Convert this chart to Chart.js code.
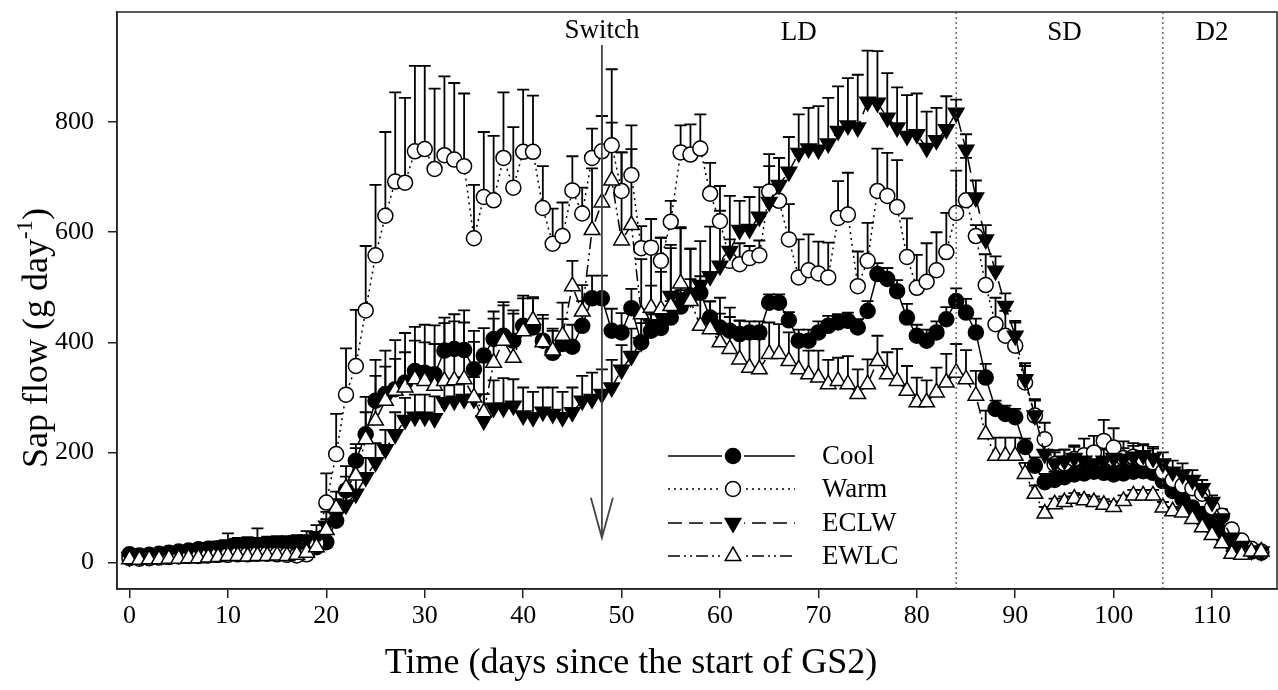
<!DOCTYPE html>
<html>
<head>
<meta charset="utf-8">
<script src="https://cdn.jsdelivr.net/npm/chart.js@4.4.1/dist/chart.umd.min.js"></script>
<style>
  html, body { margin: 0; padding: 0; background: #fff; }
  #sapChart { display: block; }
</style>
</head>
<body>
<canvas id="sapChart" width="1278" height="690"></canvas>
<script>
const FONT = '"Liberation Serif", "Times New Roman", serif';

// days since start of GS2
const days = [];
for (let d = 0; d <= 115; d++) days.push(d);

const xTicks = [0, 10, 20, 30, 40, 50, 60, 70, 80, 90, 100, 110];
const yTicks = [0, 200, 400, 600, 800];

// sap flow means (g day-1)
const cool = [
  15, 13, 14, 16, 18, 20, 22, 24, 25, 26,
  27, 28, 28, 29, 28, 28, 27, 25, 22, 28,
  37, 76, 131, 185, 233, 294, 306, 315, 327, 348,
  345, 342, 385, 388, 386, 351, 376, 406, 412, 403,
  430, 427, 403, 381, 397, 392, 430, 480, 480, 421,
  418, 462, 400, 421, 426, 445, 465, 485, 490, 445,
  427, 421, 415, 418, 418, 472, 472, 440, 403, 403,
  418, 430, 436, 439, 427, 457, 524, 515, 493, 445,
  412, 403, 418, 442, 475, 454, 418, 336, 279, 270,
  264, 210, 176, 146, 150, 155, 160, 162, 165, 163,
  160, 162, 165, 166, 163, 148, 130, 115, 100, 88,
  72, 55, 35, 25, 20, 18
];
const warm = [
  8, 7, 8, 9, 10, 11, 12, 12, 13, 14,
  14, 15, 15, 16, 16, 15, 14, 13, 15, 35,
  109, 197, 305, 357, 458, 558, 630, 692, 690, 747,
  751, 715, 740, 732, 720, 589, 664, 658, 735, 681,
  746, 746, 644, 579, 593, 676, 634, 735, 747, 758,
  675, 704, 571, 572, 548, 619, 745, 741, 752, 670,
  620, 548, 542, 553, 558, 674, 657, 587, 518, 531,
  525, 518, 626, 632, 502, 548, 675, 666, 646, 555,
  499, 510, 531, 564, 635, 658, 593, 504, 433, 412,
  394, 327, 267, 224, 179, 180, 188, 195, 200, 221,
  209, 190, 192, 188, 182, 165, 150, 140, 135, 125,
  100, 85, 60, 40, 25, 20
];
const eclw = [
  10, 12, 14, 16, 18, 20, 22, 25, 28, 30,
  33, 35, 36, 37, 37, 38, 38, 40, 42, 48,
  67, 85, 105, 125, 155, 182, 206, 233, 259, 265,
  265, 262, 291, 294, 297, 297, 258, 281, 281, 285,
  267, 264, 274, 270, 264, 273, 294, 297, 306, 318,
  350, 375, 400, 433, 448, 484, 481, 481, 504, 520,
  539, 566, 604, 606, 628, 655, 686, 710, 744, 752,
  750, 761, 784, 794, 790, 837, 835, 808, 790, 775,
  778, 753, 767, 787, 817, 750, 663, 587, 530, 466,
  412, 333, 267, 197, 180, 185, 190, 185, 180, 185,
  190, 188, 192, 195, 190, 180, 165, 160, 150, 135,
  110, 80, 45, 30, 22, 20
];
const ewlc = [
  6, 5, 6, 6, 7, 7, 8, 8, 9, 10,
  12, 12, 11, 12, 12, 13, 12, 14, 18, 28,
  59, 99, 135, 158, 224, 258, 294, 312, 318, 333,
  330, 321, 330, 331, 333, 300, 273, 363, 403, 372,
  420, 440, 400, 385, 412, 502, 456, 604, 654, 694,
  585, 613, 451, 463, 460, 466, 507, 475, 430, 424,
  400, 388, 369, 354, 351, 379, 379, 366, 351, 342,
  336, 324, 330, 324, 306, 324, 366, 342, 330, 312,
  291, 291, 309, 327, 345, 333, 303, 233, 194, 194,
  194, 161, 125, 89, 106, 110, 116, 113, 110, 105,
  101, 112, 122, 122, 122, 100, 93, 91, 79, 64,
  50, 35, 16, 14, 20, 20
];

// upper error bars (SE)
const coolErr = [
  5, 5, 5, 5, 6, 6, 6, 6, 6, 6,
  8, 8, 8, 8, 8, 8, 8, 8, 8, 10,
  15, 20, 25, 30, 40, 45, 50, 55, 55, 55,
  55, 55, 50, 50, 50, 50, 50, 50, 55, 55,
  55, 55, 40, 40, 45, 40, 45, 41, 41, 40,
  35, 35, 35, 30, 30, 30, 30, 30, 30, 30,
  25, 25, 25, 20, 20, 15, 15, 15, 20, 20,
  20, 18, 15, 15, 15, 18, 20, 20, 20, 25,
  20, 20, 20, 22, 23, 25, 25, 25, 15, 15,
  15, 15, 15, 15, 15, 15, 15, 15, 15, 15,
  15, 15, 15, 15, 15, 15, 15, 12, 10, 10,
  10, 8, 6, 5, 5, 5
];
const warmErr = [
  5, 5, 5, 6, 6, 6, 7, 7, 7, 8,
  8, 8, 8, 8, 8, 8, 8, 8, 10, 20,
  53, 73, 84, 102, 117, 128, 152, 162, 154, 155,
  151, 146, 143, 139, 132, 97, 118, 117, 119, 110,
  113, 102, 76, 64, 61, 62, 47, 53, 64, 41,
  70, 90, 40, 52, 42, 38, 49, 55, 62, 56,
  64, 39, 38, 22, 27, 68, 78, 64, 69, 65,
  58, 63, 67, 76, 63, 69, 77, 78, 85, 70,
  60, 70, 69, 71, 77, 77, 20, 56, 48, 45,
  42, 35, 30, 30, 25, 25, 25, 30, 30, 38,
  35, 30, 25, 25, 25, 20, 20, 18, 15, 15,
  15, 12, 10, 8, 5, 5
];
const eclwErr = [
  5, 5, 5, 6, 6, 6, 7, 7, 7, 8,
  20, 10, 10, 25, 10, 10, 10, 10, 15, 20,
  25, 30, 35, 35, 35, 35, 35, 40, 40, 40,
  40, 40, 40, 40, 40, 40, 48, 50, 54, 48,
  51, 46, 44, 48, 46, 45, 45, 48, 45, 50,
  45, 50, 60, 70, 80, 87, 128, 89, 80, 90,
  100, 100, 53, 58, 54, 65, 49, 63, 70, 74,
  79, 83, 81, 86, 96, 93, 94, 81, 73, 74,
  74, 66, 59, 60, 24, 28, 31, 26, 26, 23,
  27, 24, 27, 20, 20, 20, 20, 20, 20, 20,
  20, 20, 20, 20, 20, 20, 20, 20, 18, 15,
  12, 10, 8, 6, 5, 5
];
const ewlcErr = [
  3, 3, 3, 3, 4, 4, 4, 4, 4, 5,
  5, 5, 5, 5, 5, 5, 5, 5, 8, 10,
  20, 30, 40, 50, 77, 110, 91, 92, 99, 95,
  102, 110, 115, 120, 125, 121, 100, 80, 70, 80,
  60, 40, 50, 40, 60, 46, 48, 112, 157, 202,
  160, 138, 100, 120, 130, 111, 100, 95, 60, 50,
  81, 75, 70, 60, 55, 57, 54, 52, 45, 43,
  49, 44, 42, 51, 45, 45, 46, 40, 58, 45,
  45, 40, 45, 52, 52, 53, 45, 43, 33, 33,
  33, 20, 15, 12, 10, 10, 10, 10, 10, 10,
  10, 10, 10, 10, 10, 10, 8, 8, 8, 6,
  6, 5, 5, 5, 5, 5
];

// photoperiod phases and the treatment switch
const phaseLines = [84, 105];
const phaseLabels = [
  { text: 'LD', day: 68 },
  { text: 'SD', day: 95 },
  { text: 'D2', day: 110 }
];
const switchDay = 48;

const seriesStyle = [
  { label: 'Cool', values: cool, err: coolErr, fill: '#000', style: 'circle', rot: 0, radius: 7.5, dash: [] },
  { label: 'Warm', values: warm, err: warmErr, fill: '#fff', style: 'circle', rot: 0, radius: 7.5, dash: [2, 4] },
  { label: 'ECLW', values: eclw, err: eclwErr, fill: '#000', style: 'triangle', rot: 180, radius: 9, dash: [14, 7] },
  { label: 'EWLC', values: ewlc, err: ewlcErr, fill: '#fff', style: 'triangle', rot: 0, radius: 9, dash: [12, 4, 2, 4, 2, 4] }
];

const toPoints = vals => vals.map((v, i) => ({ x: days[i], y: v }));

// error bars go under the markers
const errorBars = {
  id: 'errorBars',
  beforeDatasetsDraw(chart) {
    const { ctx, scales: { x, y } } = chart;
    ctx.save();
    ctx.strokeStyle = '#000';
    ctx.lineWidth = 1.8;
    seriesStyle.forEach(s => {
      s.values.forEach((v, i) => {
        const px = x.getPixelForValue(days[i]);
        const y0 = y.getPixelForValue(v);
        const y1 = y.getPixelForValue(v + s.err[i]);
        ctx.beginPath();
        ctx.moveTo(px, y0);
        ctx.lineTo(px, y1);
        ctx.moveTo(px - 6, y1);
        ctx.lineTo(px + 6, y1);
        ctx.stroke();
      });
    });
    ctx.restore();
  }
};

const decorations = {
  id: 'decorations',
  afterDraw(chart) {
    const { ctx, chartArea: a, scales: { x, y } } = chart;
    ctx.save();

    // frame
    ctx.strokeStyle = '#222';
    ctx.lineWidth = 1.5;
    ctx.strokeRect(a.left, a.top, a.right - a.left, a.bottom - a.top);

    // phase boundaries
    ctx.strokeStyle = '#444';
    ctx.lineWidth = 1.2;
    ctx.setLineDash([2, 3]);
    phaseLines.forEach(d => {
      const px = x.getPixelForValue(d);
      ctx.beginPath();
      ctx.moveTo(px, a.top);
      ctx.lineTo(px, a.bottom);
      ctx.stroke();
    });
    ctx.setLineDash([]);

    ctx.fillStyle = '#000';
    ctx.font = '27px ' + FONT;
    ctx.textAlign = 'center';
    ctx.textBaseline = 'middle';
    phaseLabels.forEach(p => ctx.fillText(p.text, x.getPixelForValue(p.day), 33));

    // switch arrow
    const sx = x.getPixelForValue(switchDay);
    ctx.fillText('Switch', sx, 31);
    const top = 45;
    const tip = y.getPixelForValue(45);
    ctx.strokeStyle = '#444';
    ctx.lineWidth = 1.8;
    ctx.beginPath();
    ctx.moveTo(sx, top);
    ctx.lineTo(sx, tip);
    ctx.moveTo(sx - 11, tip - 40);
    ctx.lineTo(sx, tip);
    ctx.lineTo(sx + 11, tip - 40);
    ctx.stroke();

    // legend
    const lx0 = 668, lx1 = 795, mx = 733, tx = 822;
    const rows = [456, 489, 523, 556];
    seriesStyle.forEach((s, i) => {
      const ly = rows[i];
      ctx.strokeStyle = '#000';
      ctx.lineWidth = 1.5;
      ctx.setLineDash(s.dash);
      ctx.beginPath();
      ctx.moveTo(lx0, ly);
      ctx.lineTo(lx1, ly);
      ctx.stroke();
      ctx.setLineDash([]);
      ctx.fillStyle = '#fff';
      ctx.fillRect(mx - 11, ly - 11, 22, 22);
      ctx.fillStyle = s.fill;
      ctx.strokeStyle = '#000';
      ctx.lineWidth = 1.5;
      ctx.beginPath();
      if (s.style === 'circle') {
        ctx.arc(mx, ly, s.radius, 0, Math.PI * 2);
      } else {
        const r = s.radius, dir = s.rot ? -1 : 1;
        ctx.moveTo(mx, ly - dir * r);
        ctx.lineTo(mx + r * 0.866, ly + dir * r * 0.5);
        ctx.lineTo(mx - r * 0.866, ly + dir * r * 0.5);
        ctx.closePath();
      }
      ctx.fill();
      ctx.stroke();
      ctx.fillStyle = '#000';
      ctx.font = '27px ' + FONT;
      ctx.textAlign = 'left';
      ctx.fillText(s.label, tx, ly + 1);
    });

    // axis titles
    ctx.font = '36px ' + FONT;
    ctx.textAlign = 'center';
    ctx.fillText('Time (days since the start of GS2)', 631, 664);

    ctx.translate(38, 338);
    ctx.rotate(-Math.PI / 2);
    const main = 'Sap flow (g day';
    const sup = '-1';
    ctx.font = '36px ' + FONT;
    const w1 = ctx.measureText(main).width;
    const w3 = ctx.measureText(')').width;
    ctx.font = '23px ' + FONT;
    const w2 = ctx.measureText(sup).width;
    let sx0 = -(w1 + w2 + w3) / 2;
    ctx.textAlign = 'left';
    ctx.font = '36px ' + FONT;
    ctx.fillText(main, sx0, 0);
    ctx.font = '23px ' + FONT;
    ctx.fillText(sup, sx0 + w1, -12);
    ctx.font = '36px ' + FONT;
    ctx.fillText(')', sx0 + w1 + w2, 0);

    ctx.restore();
  }
};

const datasets = seriesStyle.map((s, i) => ({
  label: s.label,
  data: toPoints(s.values),
  borderColor: '#000',
  borderWidth: 1.5,
  borderDash: s.dash,
  pointStyle: s.style,
  rotation: s.rot,
  pointRadius: s.radius,
  pointBackgroundColor: s.fill,
  pointBorderColor: '#000',
  pointBorderWidth: 1.5,
  tension: 0,
  order: 4 - i
}));

new Chart(document.getElementById('sapChart'), {
  type: 'line',
  data: { datasets },
  options: {
    responsive: false,
    animation: false,
    devicePixelRatio: 1,
    layout: { autoPadding: false, padding: { top: 12, right: 1, left: 0, bottom: 0 } },
    plugins: { legend: { display: false }, tooltip: { enabled: false } },
    scales: {
      x: {
        type: 'linear',
        min: -1.27,
        max: 116.6,
        afterBuildTicks: scale => { scale.ticks = xTicks.map(v => ({ value: v })); },
        afterFit: scale => {
          scale.height = 101;
          scale.paddingLeft = 0;
          scale.paddingRight = 0;
        },
        grid: { drawOnChartArea: false, drawTicks: true, tickLength: 9, color: '#222', lineWidth: 1.5 },
        border: { display: true, color: '#222', width: 1.5 },
        ticks: { color: '#000', font: { family: FONT, size: 26 }, padding: 3, maxRotation: 0 }
      },
      y: {
        type: 'linear',
        min: -48,
        max: 1000,
        afterBuildTicks: scale => { scale.ticks = yTicks.map(v => ({ value: v })); },
        afterFit: scale => {
          scale.width = 117;
          scale.paddingTop = 0;
          scale.paddingBottom = 0;
        },
        grid: { drawOnChartArea: false, drawTicks: true, tickLength: 9, color: '#222', lineWidth: 1.5 },
        border: { display: true, color: '#222', width: 1.5 },
        ticks: { color: '#000', font: { family: FONT, size: 26 }, padding: 14 }
      }
    }
  },
  plugins: [errorBars, decorations]
});
</script>
</body>
</html>
